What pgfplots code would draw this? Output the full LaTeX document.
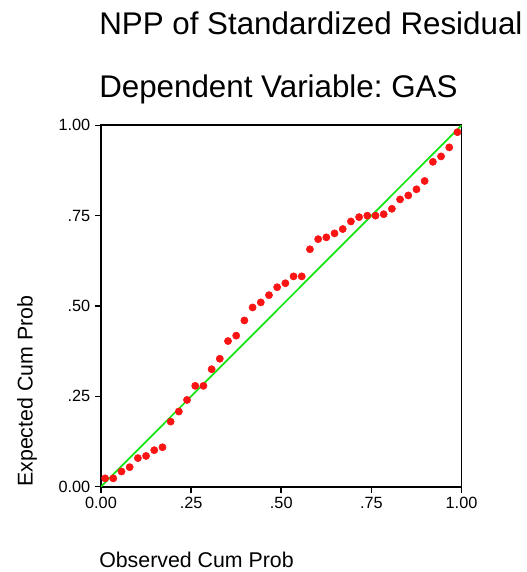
\documentclass[border=0pt]{standalone}
\usepackage{pgfplots}
\pgfplotsset{compat=1.18}
\usepackage{fontspec}
\setmainfont{Liberation Sans}
\frenchspacing
\definecolor{ptred}{RGB}{250,20,20}
\definecolor{refgreen}{RGB}{20,230,20}
\begin{document}
\begin{tikzpicture}[x=0.75pt,y=0.75pt]
\path[use as bounding box] (0,0) rectangle (526,572);
\begin{axis}[
  at={(75.75pt,64pt)}, anchor=south west,
  scale only axis, width=270.4pt, height=271pt,
  xmin=0, xmax=1, ymin=0, ymax=1,
  xtick={0,0.25,0.5,0.75,1}, xticklabels={0.00,.25,.50,.75,1.00},
  ytick={0,0.25,0.5,0.75,1}, yticklabels={0.00,.25,.50,.75,1.00},
  tick pos=left, tick align=outside, major tick length=4.5pt,
  tick style={black, line width=1.2pt},
  axis line style={black, line width=1.4pt},
  ticklabel style={font=\fontsize{12.2}{14}\selectfont},
  clip=true,
]
\addplot[refgreen, line width=1.3pt] coordinates {(0,0) (1,1)};
\addplot[only marks, mark=*, mark size=2.7pt, color=ptred] table {
x y
0.0114 0.023
0.0341 0.023
0.0568 0.042
0.0795 0.054
0.1023 0.079
0.1250 0.085
0.1477 0.101
0.1705 0.109
0.1932 0.180
0.2159 0.208
0.2386 0.240
0.2614 0.279
0.2841 0.279
0.3068 0.325
0.3295 0.354
0.3523 0.403
0.3750 0.418
0.3977 0.460
0.4205 0.496
0.4432 0.510
0.4659 0.530
0.4886 0.552
0.5114 0.563
0.5341 0.582
0.5568 0.582
0.5795 0.657
0.6023 0.685
0.6250 0.690
0.6477 0.701
0.6705 0.713
0.6932 0.734
0.7159 0.746
0.7386 0.750
0.7614 0.750
0.7841 0.754
0.8068 0.769
0.8295 0.795
0.8523 0.806
0.8750 0.823
0.8977 0.846
0.9205 0.899
0.9432 0.914
0.9659 0.939
0.9886 0.981
};
\end{axis}
\node[anchor=base west, inner sep=0, font=\fontsize{23.5}{28}\selectfont] at (99,537) {NPP of Standardized Residual};
\node[anchor=base west, inner sep=0, font=\fontsize{23.5}{28}\selectfont] at (99,474) {Dependent Variable: GAS};
\node[anchor=base west, inner sep=0, font=\fontsize{16}{19}\selectfont] at (99,5) {Observed Cum Prob};
\node[anchor=base west, inner sep=0, rotate=90, font=\fontsize{16}{19}\selectfont] at (32.7,85) {Expected Cum Prob};
\end{tikzpicture}
\end{document}
